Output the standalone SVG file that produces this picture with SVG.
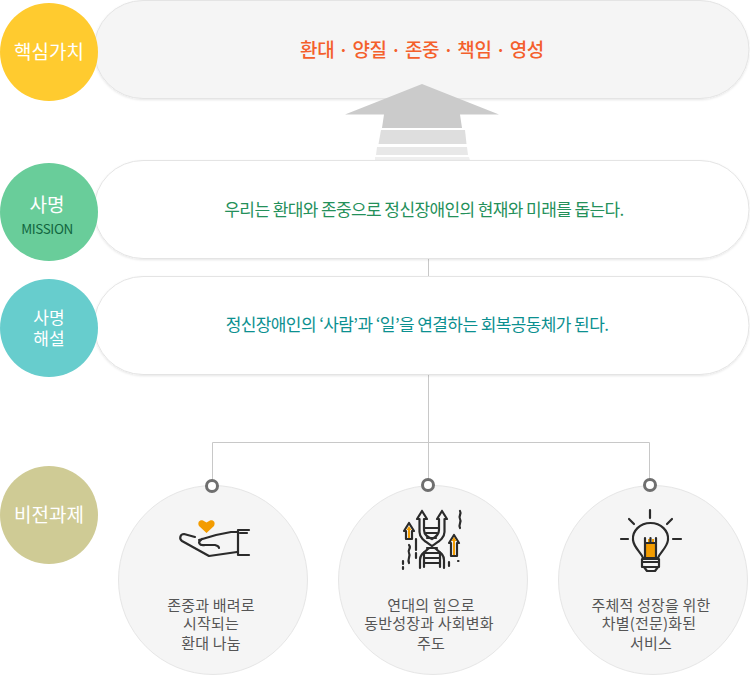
<svg xmlns="http://www.w3.org/2000/svg" width="750" height="685" viewBox="0 0 750 685">
<style>
text{font-family:"Noto Sans CJK KR","Noto Sans",sans-serif;text-anchor:middle}
.w{fill:#fff;font-size:19px}
.p{stroke:#e4e4e4;stroke-width:1}
.m{font-size:17px;letter-spacing:-.6px}
.c{fill:#f5f5f5;stroke:#e6e6e6;stroke-width:1}
.t{fill:#555;font-size:15px;letter-spacing:.2px}
.i{fill:none;stroke:#2b2b2b;stroke-width:2.200;stroke-linecap:round;stroke-linejoin:round}
.o{fill:#f39c00;stroke:none}
.r{fill:#fff;stroke:#6f6f6f;stroke-width:3}
</style>
<defs>
<filter id="s" x="-5%" y="-10%" width="110%" height="125%"><feDropShadow dx="0" dy="1" stdDeviation="1" flood-color="#000" flood-opacity=".1"/></filter>
</defs>
<g id="connectors" fill="none" stroke="#c8c8c8">
<path d="M428.500 258V485"/>
<path d="M212.500 485V442.500H649.500V485"/>
</g>
<g id="node-core">
<rect class="p" x="94" y="0.500" width="655" height="98" rx="49" fill="#f5f5f5" filter="url(#s)"/>
<circle cx="49" cy="52" r="49" fill="#ffcb2f"/>
<text class="w" x="49" y="59">핵심가치</text>
<text x="422" y="57" font-size="19" font-weight="500" fill="#f4602c" letter-spacing="-.4">환대 · 양질 · 존중 · 책임 · 영성</text>
</g>
<g id="arrow">
<path d="M422 84L499 114.500H460L462 128H382L384 114.500H345Z" fill="#cbcbcb"/>
<path d="M381 130H465L466.500 144H378.500Z" fill="#dedede"/>
<path d="M377 147H467L468 155H376Z" fill="#e8e8e8"/>
<path d="M375 157H469L470 160.500H375Z" fill="#efefef"/>
</g>
<g id="node-mission">
<rect class="p" x="94" y="160.500" width="655" height="98" rx="49" fill="#fff" filter="url(#s)"/>
<circle cx="49" cy="212" r="49" fill="#69cd9a"/>
<text class="w" x="47" y="212">사명</text>
<text x="47" y="234" font-size="13.500" fill="#11663f" letter-spacing="-.4">MISSION</text>
<text class="m" x="424" y="216" fill="#24905a">우리는 환대와 존중으로 정신장애인의 현재와 미래를 돕는다.</text>
</g>
<g id="node-explain">
<rect class="p" x="94" y="276.500" width="655" height="98" rx="49" fill="#fff" filter="url(#s)"/>
<circle cx="49" cy="328" r="49" fill="#67cdcd"/>
<text class="w" x="49" y="324" style="font-size:17px">사명</text>
<text class="w" x="49" y="345" style="font-size:17px">해설</text>
<text class="m" x="417" y="331" fill="#0c9090">정신장애인의 ‘사람’과 ‘일’을 연결하는 회복공동체가 된다.</text>
</g>
<g id="node-vision-label">
<circle cx="49" cy="515" r="49" fill="#cfcb95"/>
<text class="w" x="49" y="522">비전과제</text>
</g>
<g id="node-vision-1">
<circle class="c" cx="213" cy="580" r="94.500"/>
<circle class="r" cx="212" cy="486" r="5.500"/>
<path class="o" d="M206.500 533L199 526C197 522 200 519.500 203 520.500L206.500 522.500L210 520.500C213 519.500 216 522 214 526Z"/>
<path class="i" d="M195 537L184 534C180 534 179 539 182 541L209 556L237 552M199 540L216 535L231 532H237M202 539C197 542 199 546 205 545L215 545C219 546 219 548 219 548"/>
<path class="i" d="M238 530V555M238 530H249M238 555H249M240 533H247"/>
<text class="t" x="211" y="611">존중과 배려로</text>
<text class="t" x="211" y="629">시작되는</text>
<text class="t" x="211" y="649">환대 나눔</text>
</g>
<g id="node-vision-2">
<circle class="c" cx="433" cy="580" r="94.500"/>
<circle class="r" cx="428" cy="485" r="5.500"/>
<path class="i" d="M422 511L417 519H419.500V532C419.500 540 429 543 436 549C441 553 444 555 444 560V568M422 511L427 519H424V530C424 535 428 537 432 539M442 511L437 519H439V530C439 535 436 537 432 539M442 511L447 519H444.500V532C444.500 540 435 543 428 549C423 553 420 555 420 560V568M424 552C424 558 424 562 424 567M440 552V567"/>
<path class="i" d="M425 528H438M426 533H437M427 538H436M427 548H437M424 553H440M424 558H440M424 563H440"/>
<path class="i" d="M406 539V531H404L409 523L414 531H412V539ZM451 556V543H449L454 535L459 543H457V556Z"/>
<path class="o" d="M408 538V530H406.500L409 526L411.500 530H410V538ZM453 555V541H451.500L454 537L456.500 541H455V555Z"/>
<path class="i" d="M460 511C462 514 458 516 460 519C462 522 458 524 460 528M409 545C412 548 407 550 409 553C411 556 407 559 409 563M416 539V550M416 553V558M403 561V564M403 567V569M449 562V566M458 561H458.500" stroke-width="1.800"/>
<text class="t" x="431" y="611">연대의 힘으로</text>
<text class="t" x="429" y="629">동반성장과 사회변화</text>
<text class="t" x="431" y="649">주도</text>
</g>
<g id="node-vision-3">
<circle class="c" cx="653" cy="580" r="94.500"/>
<circle class="r" cx="650" cy="485" r="5.500"/>
<path class="o" d="M645 542H648V539H650V542H652V539H654V542H656V557H645Z"/>
<path class="i" d="M643 558C641 552 634 548 633 540C632 531 640 523 650.500 523C661 523 669 531 668 540C667 548 660 552 658 558ZM645 557V538M656 557V538M645 543H656M650.500 538V543M642 559H659V567H642ZM644 567L647 571H655L658 567M643 562H658"/>
<path class="i" d="M650 510V518M629 519L634 524M672 519L667 524M621 539H628M673 539H681"/>
<text class="t" x="651" y="611">주체적 성장을 위한</text>
<text class="t" x="649" y="629">차별(전문)화된</text>
<text class="t" x="651" y="649">서비스</text>
</g>
</svg>
